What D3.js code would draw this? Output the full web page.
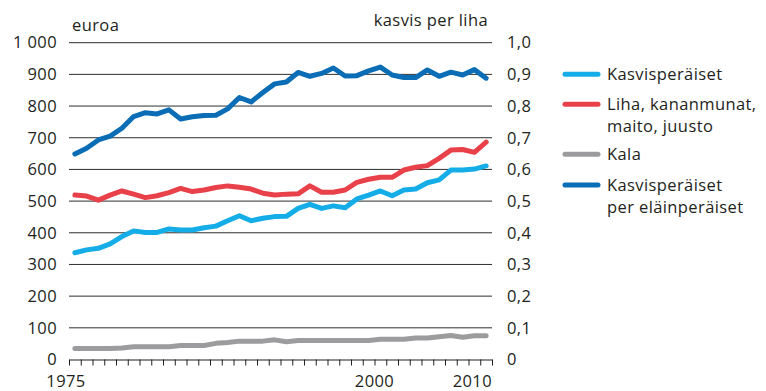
<!DOCTYPE html>
<html>
<head>
<meta charset="utf-8">
<script src="https://cdn.jsdelivr.net/npm/d3@7/dist/d3.min.js"></script>
<style>
  html, body { margin: 0; padding: 0; background: #fff; }
  svg text { font-family: "Open Sans", "Noto Sans", sans-serif; fill: #231f20; letter-spacing: 0.4px; }
</style>
</head>
<body>
<svg id="chart" width="766" height="391"></svg>
<script>
// Vuodet 1975–2010
const years = d3.range(1975, 2011);

// Kasvisperäiset, euroa
const kasvis = [337, 346, 351, 365, 388, 406, 401, 401, 412, 409, 409, 416, 421, 438, 454, 438,
  446, 451, 452, 477, 490, 477, 485, 479, 507, 519, 532, 517, 535, 538, 558, 567, 598, 598, 601, 611];

// Liha, kananmunat, maito, juusto, euroa
const liha = [519, 516, 503, 519, 532, 522, 511, 517, 527, 540, 530, 535, 543, 548, 544, 538,
  525, 519, 522, 523, 548, 528, 528, 535, 559, 569, 575, 575, 598, 607, 612, 635, 661, 663, 654, 686];

// Kala, euroa
const kala = [35, 35, 35, 35, 36, 40, 40, 40, 40, 44, 44, 44, 51, 54, 58, 58,
  58, 62, 56, 60, 60, 60, 60, 60, 60, 60, 64, 64, 64, 68, 68, 72, 76, 70, 75, 75];

// Kasvisperäiset per eläinperäiset (oikea asteikko)
const suhde = [0.649, 0.667, 0.693, 0.705, 0.730, 0.767, 0.779, 0.775, 0.788, 0.759, 0.766, 0.770,
  0.771, 0.791, 0.827, 0.813, 0.843, 0.870, 0.876, 0.906, 0.894, 0.903, 0.920, 0.895, 0.896, 0.911,
  0.923, 0.898, 0.890, 0.890, 0.914, 0.894, 0.907, 0.898, 0.915, 0.888];

const leftTicks = d3.range(0, 1001, 100);
const rightTicks = d3.range(0, 1.01, 0.1);
const yearLabels = [1975, 2000, 2010];

const legendItems = [
  { lines: ["Kasvisperäiset"], color: "#14ade8" },
  { lines: ["Liha, kananmunat,", "maito, juusto"], color: "#e8414a" },
  { lines: ["Kala"], color: "#9c9c9e" },
  { lines: ["Kasvisperäiset", "per eläinperäiset"], color: "#0a6db5" }
];

const FS = 16.5;

const fi = d3.formatLocale({ decimal: ",", thousands: "\u00a0", grouping: [3], currency: ["", " €"] });
const fmtLeft = fi.format(",d");
const fmtRight = v => (Math.abs(v) < 1e-9 ? "0" : fi.format(".1f")(v));

const svg = d3.select("#chart");

// Vuodet luokkien keskelle, jakoviivat luokkien rajoille
const x = d3.scaleLinear().domain([1974.5, 2010.5]).range([69, 492]);
const yL = d3.scaleLinear().domain([0, 1000]).range([359.5, 42.7]);
const yR = d3.scaleLinear().domain([0, 1]).range([359.5, 42.7]);

// Vaakaviivat
svg.append("g")
  .selectAll("line")
  .data(leftTicks.filter(d => d > 0))
  .join("line")
  .attr("x1", x.range()[0]).attr("x2", x.range()[1])
  .attr("y1", d => yL(d)).attr("y2", d => yL(d))
  .attr("stroke", "#2e2e2e").attr("stroke-width", 1);

// Vasen asteikko
const gL = svg.append("g")
  .attr("transform", "translate(62,0)")
  .call(d3.axisLeft(yL).tickValues(leftTicks).tickFormat(fmtLeft).tickSize(0).tickPadding(5));
gL.select(".domain").remove();
gL.selectAll("text").attr("font-size", FS).attr("fill", "#231f20")
  .style("font-family", '"Open Sans", sans-serif');

// Oikea asteikko
const gR = svg.append("g")
  .attr("transform", "translate(502,0)")
  .call(d3.axisRight(yR).tickValues(rightTicks).tickFormat(fmtRight).tickSize(0).tickPadding(5));
gR.select(".domain").remove();
gR.selectAll("text").attr("font-size", FS).attr("fill", "#231f20")
  .style("font-family", '"Open Sans", sans-serif');

// Vaaka-akseli
const gX = svg.append("g")
  .attr("transform", `translate(0,${yL(0)})`)
  .call(d3.axisBottom(x).tickValues(d3.range(1974.5, 2011, 1)).tickFormat("").tickSizeInner(6).tickSizeOuter(0));
gX.select(".domain").attr("stroke", "#231f20").attr("stroke-width", 1.2);
gX.selectAll(".tick line").attr("stroke", "#231f20").attr("stroke-width", 1);

svg.append("g")
  .selectAll("text")
  .data(yearLabels)
  .join("text")
  .attr("x", d => d === 1975 ? x(d - 0.5) - 3 : x(d + 0.5))
  .attr("y", 386.5)
  .attr("text-anchor", d => d === 2010 ? "end" : "middle")
  .attr("font-size", FS)
  .text(d => d);

// Yksiköt
svg.append("text").attr("x", 72).attr("y", 30.5).attr("font-size", FS).text("euroa");
svg.append("text").attr("x", 488).attr("y", 26).attr("text-anchor", "end").attr("font-size", FS).text("kasvis per liha");

// Sarjat
const lineL = d3.line().x((d, i) => x(years[i])).y(d => yL(d));
const lineR = d3.line().x((d, i) => x(years[i])).y(d => yR(d));

const series = [
  { data: kala, gen: lineL, color: legendItems[2].color },
  { data: kasvis, gen: lineL, color: legendItems[0].color },
  { data: liha, gen: lineL, color: legendItems[1].color },
  { data: suhde, gen: lineR, color: legendItems[3].color }
];

svg.append("g")
  .selectAll("path")
  .data(series)
  .join("path")
  .attr("d", s => s.gen(s.data))
  .attr("fill", "none")
  .attr("stroke", s => s.color)
  .attr("stroke-width", 5)
  .attr("stroke-linejoin", "round")
  .attr("stroke-linecap", "round");

// Selite
const legendY = [74.3, 104.3, 154.3, 185];
const lg = svg.append("g");
legendItems.forEach((item, i) => {
  const g = lg.append("g").attr("transform", `translate(0,${legendY[i]})`);
  g.append("line")
    .attr("x1", 565).attr("x2", 598).attr("y1", 0).attr("y2", 0)
    .attr("stroke", item.color).attr("stroke-width", 5).attr("stroke-linecap", "round");
  g.selectAll("text")
    .data(item.lines)
    .join("text")
    .attr("x", 607)
    .attr("y", (d, j) => 5.7 + j * 22.5)
    .attr("font-size", FS)
    .text(d => d);
});
</script>
</body>
</html>
